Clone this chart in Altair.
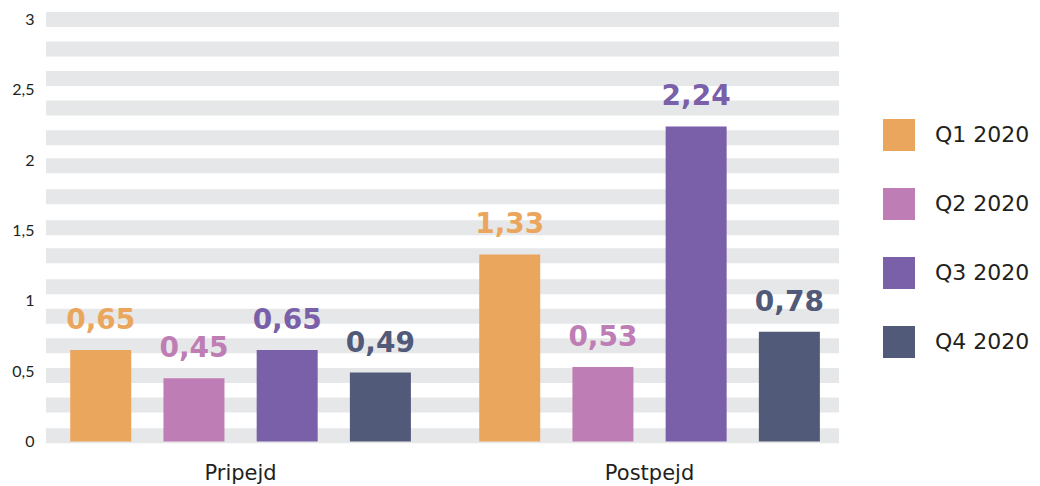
import altair as alt
import pandas as pd

groups = ["Pripejd", "Postpejd"]
quarters = ["Q1 2020", "Q2 2020", "Q3 2020", "Q4 2020"]
pripejd = [0.65, 0.45, 0.65, 0.49]
postpejd = [1.33, 0.53, 2.24, 0.78]
colors = ["#EBA65E", "#BF7DB5", "#7A60A8", "#525A7A"]
y_ticks = [0, 0.5, 1, 1.5, 2, 2.5, 3]
stripes = [3.0, 2.79, 2.58, 2.37, 2.16, 1.96, 1.74, 1.52, 1.32, 1.10, 0.89, 0.68, 0.47, 0.26, 0.04]

rows = []
for g, vals in zip(groups, [pripejd, postpejd]):
    for q, v in zip(quarters, vals):
        rows.append({"group": g, "quarter": q, "value": v,
                     "label": f"{v:.2f}".replace(".", ",")})
df = pd.DataFrame(rows)
sdf = pd.DataFrame({"value": stripes})

W, H = 793, 422

yaxis = alt.Axis(values=y_ticks,
                 labelExpr="replace(format(datum.value, '~g'), '.', ',')",
                 labelFontSize=16, labelFont="Lato", labelColor="#231f20",
                 domain=False, ticks=False, grid=False, labelPadding=12)
yscale = alt.Scale(domain=[0, 3], nice=False)

bg = alt.Chart(sdf).mark_rule(color="#E6E7E8", strokeWidth=15).encode(
    y=alt.Y("value:Q", scale=yscale, axis=yaxis, title=None),
    x=alt.value(0), x2=alt.value(W),
)

xenc = alt.X("group:N", sort=groups, title=None,
             scale=alt.Scale(paddingInner=0.1, paddingOuter=0.0195, align=0.66),
             axis=alt.Axis(labelAngle=0, labelFontSize=21, labelFont="DejaVu Sans",
                           labelColor="#231f20", domain=False, ticks=False,
                           labelPadding=21))
xoff = alt.XOffset("quarter:N", sort=quarters,
                   scale=alt.Scale(paddingInner=0.3455, paddingOuter=0.147))
yenc = alt.Y("value:Q", title=None, scale=yscale, axis=yaxis)
cscale = alt.Scale(domain=quarters, range=colors)

bars = alt.Chart(df).mark_bar().encode(
    x=xenc, xOffset=xoff, y=yenc,
    color=alt.Color("quarter:N", sort=quarters, scale=cscale, title=None,
                    legend=alt.Legend(orient="none", legendX=837, legendY=99.5,
                                      symbolType="square", symbolSize=1024,
                                      symbolStrokeWidth=0, symbolOpacity=1,
                                      labelFontSize=22, labelFont="DejaVu Sans",
                                      labelColor="#231f20", labelOffset=20,
                                      rowPadding=37, padding=0)),
)

texts = alt.Chart(df).mark_text(baseline="alphabetic", dy=-21, fontSize=28,
                                font="DejaVu Sans", fontWeight="bold").encode(
    x=xenc, xOffset=xoff, y=yenc, text="label:N",
    color=alt.Color("quarter:N", sort=quarters, scale=cscale, legend=None),
)

chart = alt.layer(bg, bars, texts).properties(
    width=W, height=H,
    autosize=alt.AutoSizeParams(type="none"),
    padding={"left": 38, "top": 11.5, "right": 193, "bottom": 44},
).configure_view(stroke=None)

chart.save("out.html", embed_options={"renderer": "svg", "actions": False})
